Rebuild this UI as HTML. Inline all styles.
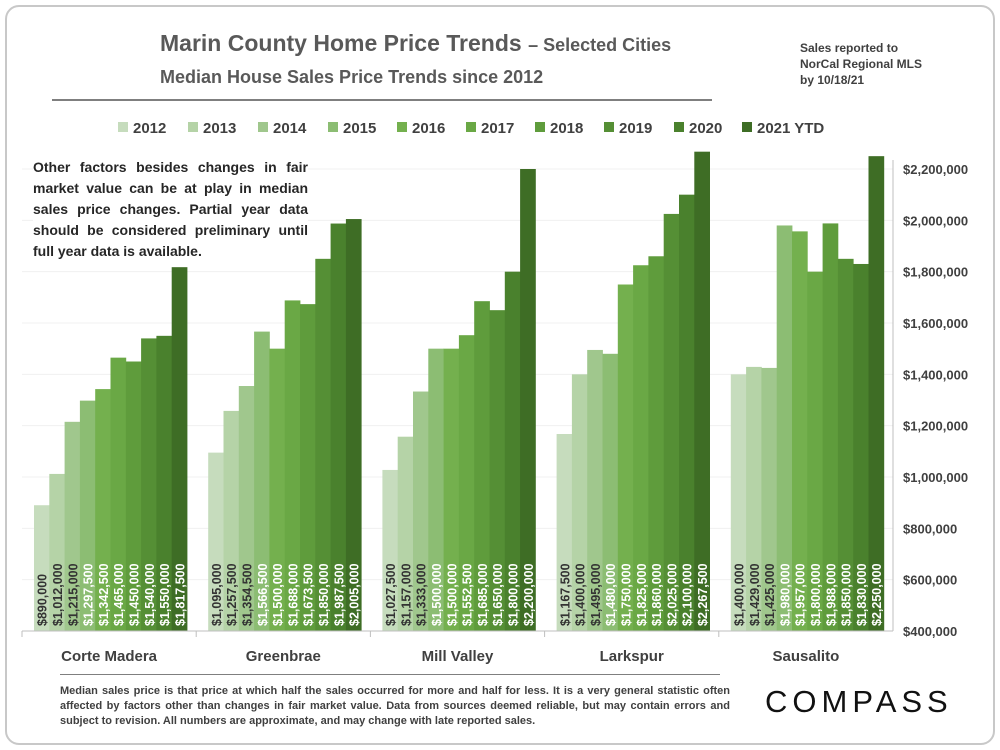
<!DOCTYPE html>
<html><head><meta charset="utf-8"><style>
body{margin:0;width:1000px;height:750px;background:#fff;font-family:"Liberation Sans",sans-serif;overflow:hidden}
.frame{position:absolute;left:5px;top:5px;width:986px;height:736px;border:2px solid #c8c8c8;border-radius:14px}
.t{position:absolute;color:#595959;font-weight:bold}
</style></head><body>
<div class="frame"></div>
<div class="t" style="left:160px;top:30px;font-size:23px">Marin County Home Price Trends <span style="font-size:18px">– Selected Cities</span></div>
<div class="t" style="left:160px;top:67px;font-size:18px">Median House Sales Price Trends since 2012</div>
<div class="t" style="left:800px;top:40px;font-size:12px;line-height:16px;color:#404040">Sales reported to<br>NorCal Regional MLS<br>by 10/18/21</div>
<div style="position:absolute;left:52px;top:99px;width:660px;height:2px;background:#7f7f7f"></div>
<svg id="chart" width="1000" height="750" style="position:absolute;left:0;top:0"></svg>
<div class="t" style="left:33px;top:157px;width:275px;font-size:14px;line-height:21px;color:#262626;text-align:justify;background:#fff">Other factors besides changes in fair market value can be at play in median sales price changes. Partial year data should be considered preliminary until full year data is available.</div>
<div style="position:absolute;left:60px;top:674px;width:660px;height:1px;background:#7f7f7f"></div>
<div class="t" style="left:60px;top:684px;width:670px;font-size:11px;line-height:15px;color:#404040;text-align:justify">Median sales price is that price at which half the sales occurred for more and half for less. It is a very general statistic often affected by factors other than changes in fair market value. Data from sources deemed reliable, but may contain errors and subject to revision. All numbers are approximate, and may change with late reported sales.</div>
<div style="position:absolute;left:765px;top:684px;font-size:31px;letter-spacing:5px;color:#111">COMPASS</div>
<script>
const cities=["Corte Madera","Greenbrae","Mill Valley","Larkspur","Sausalito"];
const years=["2012","2013","2014","2015","2016","2017","2018","2019","2020","2021 YTD"];
const cm=[890000,1012000,1215000,1297500,1342500,1465000,1450000,1540000,1550000,1817500];
const gb=[1095000,1257500,1354500,1566500,1500000,1688000,1673500,1850000,1987500,2005000];
const mv=[1027500,1157000,1333000,1500000,1500000,1552500,1685000,1650000,1800000,2200000];
const lk=[1167500,1400000,1495000,1480000,1750000,1825000,1860000,2025000,2100000,2267500];
const sa=[1400000,1429000,1425000,1980000,1957000,1800000,1988000,1850000,1830000,2250000];
const yTicks=[400000,600000,800000,1000000,1200000,1400000,1600000,1800000,2000000,2200000];
const series=[cm,gb,mv,lk,sa];
const colors=["#c6dcbd","#b5d3a7","#a0c78d","#8cbd73","#74b04e","#6aa845","#5f9c3c","#558f35","#4a812d","#3e6d25"];
const svg=document.getElementById('chart');const NS="http://www.w3.org/2000/svg";
function mk(t,a,txt){const e=document.createElementNS(NS,t);for(const k in a)e.setAttribute(k,a[k]);if(txt!==undefined)e.textContent=txt;svg.appendChild(e);return e;}
const y=v=>631-(v-400000)/1800000*462;
const X0=22,GW=174.2,BW=15.3,PAD=12;
const x=(g,i)=>X0+g*GW+PAD+i*BW;
const fmt=v=>"$"+v.toLocaleString("en-US");
yTicks.forEach(t=>{
 const gl=mk('line',{x1:X0,x2:893,y1:y(t),y2:y(t),stroke:'#f0f0f0'});
 
 const tl=mk('text',{x:903,y:y(t)+5,'font-size':13,'font-weight':'bold',fill:'#404040'},fmt(t));
 
});
series.forEach((s,g)=>{
 s.forEach((v,i)=>{
  const r=mk('rect',{x:x(g,i),y:y(v),width:BW+0.4,height:631-y(v),fill:colors[i]});
  
  
  const cx=x(g,i)+BW/2+5,ty=626;
  const l=mk('text',{x:cx,y:ty,transform:`rotate(-90 ${cx} ${ty})`,'font-size':12.5,'font-weight':'bold',fill:i<3?'#333':'#fff'},fmt(v));
  
 });
 const cl=mk('text',{x:X0+g*GW+GW/2,y:661,'text-anchor':'middle','font-size':15,'font-weight':'bold',fill:'#404040'},cities[g]);
 
 const tk=mk('line',{x1:X0+g*GW,x2:X0+g*GW,y1:631,y2:637,stroke:'#bfbfbf'});
 
});
const ax=mk('line',{x1:X0,x2:893,y1:631,y2:631,stroke:'#bfbfbf'});

const ay=mk('line',{x1:893,x2:893,y1:160,y2:631,stroke:'#bfbfbf'});

const lx=[118,188,258,328,397,466,535,604,674,742];
years.forEach((yr,i)=>{
 const sw=mk('rect',{x:lx[i],y:122,width:10,height:10,fill:colors[i]});
 
 const lt=mk('text',{x:lx[i]+15,y:133,'font-size':15,'font-weight':'bold',fill:'#404040'},yr);
 
});
</script>
</body></html>
